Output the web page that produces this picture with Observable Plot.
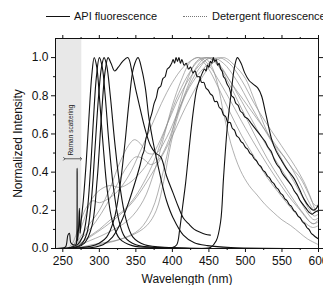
<!DOCTYPE html>
<html><head><meta charset="utf-8">
<script src="https://cdn.jsdelivr.net/npm/d3@7"></script>
<script src="https://cdn.jsdelivr.net/npm/@observablehq/plot@0.6"></script>
<style>
body{margin:0;background:#fff;font-family:"Liberation Sans",Arial,sans-serif;}
#wrap{position:relative;width:323px;height:285px;overflow:hidden;}
#legend{position:relative;height:30px;font-size:11px;color:#111;white-space:nowrap;}
.ln{position:absolute;top:16px;width:24px;height:0;}
.tx{position:absolute;top:10px;line-height:13px;}
</style></head><body>
<div id="wrap">
<div id="legend">
<span class="ln" style="left:46px;border-top:1.2px solid #111;"></span><span class="tx" style="left:74px;">API fluorescence</span>
<span class="ln" style="left:183px;border-top:1px dotted #777;"></span><span class="tx" style="left:212px;">Detergent fluorescence</span>
</div>
<div id="chart"></div>
</div>
<script>
// ---- tick labels / axes ----
const xMajor = [250,300,350,400,450,500,550,600];
const xMinor = [275,325,375,425,475,525,575];
const yMajor = [0,0.2,0.4,0.6,0.8,1.0];
const yMinor = [0.1,0.3,0.5,0.7,0.9];
const ramanShade = [[240,276]];
const ramanLabel = [{w:261,v:0.62,text:"Raman scattering"}];
const ramanArrow = [{w1:252,w2:275,v:0.47}];

// ---- API fluorescence spectra (wavelength nm, normalized intensity) ----
const api1 = [[240,0],[250,0.002],[254,0.01],[257,0.07],[259,0.08],[261,0.03],[264,0.02],[268,0.02],[269,0.05],[269.6,0.42],[270.2,0.04],[271.5,0.1],[272.7,0.21],[273.7,0.08],[275,0.14],[278,0.25],[282,0.45],[286,0.7],[289.5,0.9],[293,1.0],[296.5,0.95],[300,0.8],[305,0.55],[311,0.3],[318,0.14],[328,0.05],[345,0.015],[380,0.005],[450,0],[600,0]];
const api2 = [[240,0],[260,0.005],[270,0.02],[277,0.06],[283,0.18],[288,0.42],[292,0.68],[296,0.9],[300,1.0],[304,0.95],[308,0.8],[313,0.56],[319,0.33],[326,0.16],[335,0.06],[350,0.02],[380,0.005],[600,0]];
const api3 = [[240,0],[265,0.005],[275,0.02],[283,0.08],[289,0.25],[294,0.52],[299,0.8],[303,0.95],[306.5,1.0],[310,0.96],[315,0.8],[321,0.56],[328,0.33],[336,0.16],[346,0.06],[362,0.02],[400,0.005],[600,0]];
const api4 = [[240,0],[268,0.005],[280,0.03],[290,0.12],[297,0.36],[303,0.7],[308,0.93],[312,1.0],[316,0.97],[321,0.93],[326,0.95],[332,0.98],[339,1.0],[345,0.92],[350,0.83],[356,0.73],[363,0.62],[370,0.54],[377,0.5],[384,0.48],[392,0.38],[401,0.29],[408,0.22],[415,0.16],[422,0.13],[430,0.1],[438,0.085],[445,0.075],[452,0.07]];
const api5 = [[240,0],[275,0.005],[295,0.02],[310,0.06],[320,0.15],[328,0.32],[335,0.55],[341,0.78],[347,0.95],[353,1.0],[358,0.94],[363,0.84],[368,0.68],[374,0.55],[384,0.37],[392,0.25],[401,0.16],[415,0.07],[430,0.03],[448,0.015],[480,0.005],[600,0]];
const api6 = [[240,0],[290,0.005],[305,0.02],[318,0.06],[330,0.14],[340,0.24],[350,0.36],[356,0.44],[359,0.49],[361,0.51],[364,0.58],[366,0.6],[369,0.67],[372,0.71],[375,0.76],[378,0.79],[381,0.84],[384,0.85],[387,0.89],[390,0.9],[393,0.94],[396,0.95],[399,0.97],[401,0.99],[403,0.97],[405,1.0],[407,0.98],[409,1.0],[411,0.97],[413,0.99],[416,0.96],[419,0.97],[422,0.94],[425,0.95],[428,0.92],[431,0.93],[434,0.9],[437,0.9],[440,0.87],[443,0.87],[446,0.84],[449,0.83],[452,0.81],[455,0.8],[458,0.77],[461,0.77],[464,0.74],[467,0.73],[470,0.7],[473,0.69],[476,0.66],[479,0.66],[482,0.63],[485,0.62],[488,0.59],[491,0.58],[494,0.56],[497,0.55],[500,0.53],[503,0.52],[506,0.5],[509,0.49],[512,0.47],[515,0.46],[518,0.44],[521,0.43],[524,0.41],[527,0.4],[530,0.38],[533,0.37],[536,0.35],[539,0.34],[542,0.32],[545,0.31],[548,0.29],[551,0.28],[554,0.26],[557,0.25],[560,0.23],[563,0.22],[566,0.2],[569,0.19],[572,0.17],[575,0.16],[578,0.14],[581,0.13],[584,0.11],[587,0.1],[590,0.08],[593,0.07],[596,0.06],[600,0.05]];
const api7 = [[240,0],[380,0],[400,0.005],[406,0.02],[410,0.1],[414,0.22],[418,0.34],[421,0.45],[425,0.6],[429,0.73],[433,0.83],[437,0.88],[441,0.92],[444,0.94],[446,0.93],[448,0.96],[450,0.95],[452,0.98],[454,0.97],[456,1.0],[458,0.98],[460,0.99],[462,0.96],[464,0.97],[466,0.94],[468,0.93],[470,0.9],[472,0.89],[475,0.86],[478,0.84],[481,0.8],[484,0.79],[487,0.76],[490,0.75],[493,0.72],[496,0.71],[499,0.69],[503,0.68],[507,0.66],[511,0.64],[515,0.62],[519,0.6],[523,0.58],[527,0.56],[531,0.53],[535,0.51],[539,0.47],[543,0.44],[547,0.42],[551,0.39],[555,0.37],[559,0.35],[563,0.33],[567,0.3],[571,0.28],[575,0.25],[579,0.23],[583,0.21],[587,0.19],[591,0.18],[595,0.19],[600,0.2]];
const api8 = [[240,0],[440,0],[452,0.005],[460,0.04],[466,0.14],[470,0.37],[475,0.63],[480,0.8],[485,0.95],[489,1.0],[494,0.97],[499,0.92],[505,0.88],[511,0.86],[517,0.84],[522,0.8],[527,0.72],[531,0.65],[536,0.57],[542,0.51],[548,0.47],[556,0.42],[566,0.37],[574,0.31],[580,0.26],[587,0.22],[593,0.2],[597,0.21],[600,0.23]];

// ---- Detergent fluorescence spectra ----
const det1 = [[240,0],[255,0],[262,0.02],[268,0.07],[275,0.15],[283,0.22],[291,0.25],[300,0.24],[312,0.26],[325,0.3],[340,0.38],[355,0.5],[370,0.63],[385,0.76],[400,0.87],[415,0.95],[428,0.99],[438,1.0],[450,0.96],[465,0.87],[480,0.77],[500,0.63],[520,0.5],[540,0.38],[560,0.27],[575,0.2],[588,0.14],[594,0.13],[600,0.15]];
const det2 = [[240,0],[258,0],[266,0.02],[280,0.07],[295,0.14],[310,0.23],[325,0.34],[338,0.43],[350,0.48],[360,0.47],[370,0.44],[380,0.46],[392,0.54],[405,0.68],[420,0.84],[433,0.95],[446,1.0],[458,0.98],[475,0.9],[495,0.77],[515,0.63],[535,0.5],[555,0.38],[572,0.27],[586,0.18],[594,0.15],[600,0.16]];
const det3 = [[240,0],[260,0],[268,0.04],[278,0.14],[290,0.26],[302,0.31],[315,0.33],[328,0.32],[340,0.34],[352,0.38],[365,0.44],[380,0.54],[395,0.67],[410,0.8],[425,0.9],[440,0.97],[455,1.0],[470,0.97],[488,0.88],[507,0.75],[525,0.63],[545,0.5],[562,0.38],[578,0.27],[588,0.2],[594,0.17],[600,0.18]];
const det4 = [[240,0],[265,0],[290,0.02],[320,0.04],[345,0.07],[365,0.12],[378,0.2],[388,0.35],[398,0.55],[408,0.7],[420,0.82],[435,0.91],[450,0.97],[463,1.0],[478,0.97],[495,0.88],[512,0.76],[528,0.66],[542,0.58],[556,0.5],[568,0.43],[580,0.35],[590,0.26],[596,0.2],[600,0.19]];
const det5 = [[240,0],[268,0],[300,0.02],[330,0.05],[355,0.1],[372,0.2],[386,0.38],[398,0.58],[410,0.76],[422,0.9],[433,0.98],[443,1.0],[453,0.96],[462,0.86],[470,0.71],[480,0.55],[493,0.41],[505,0.33],[516,0.28],[527,0.23],[538,0.19],[550,0.15],[562,0.12],[575,0.08],[585,0.05],[600,0.02]];
const det6 = [[240,0],[262,0],[275,0.03],[295,0.08],[320,0.15],[345,0.24],[370,0.38],[395,0.55],[418,0.74],[438,0.88],[455,0.97],[470,1.0],[485,0.96],[500,0.89],[510,0.8],[520,0.7],[531,0.6],[540,0.54],[553,0.48],[564,0.42],[575,0.37],[586,0.29],[594,0.23],[600,0.22]];
const det7 = [[240,0],[258,0],[270,0.04],[285,0.12],[300,0.2],[315,0.32],[328,0.45],[340,0.54],[348,0.57],[356,0.55],[366,0.5],[378,0.5],[392,0.58],[408,0.72],[424,0.86],[438,0.95],[451,1.0],[465,0.96],[480,0.87],[497,0.78],[512,0.7],[527,0.62],[540,0.55],[553,0.48],[565,0.41],[576,0.33],[586,0.25],[594,0.2],[600,0.19]];
const det8 = [[240,0],[262,0],[280,0.03],[310,0.08],[340,0.15],[360,0.25],[375,0.4],[388,0.58],[400,0.75],[412,0.88],[425,0.98],[435,1.0],[448,0.95],[462,0.85],[478,0.72],[495,0.59],[512,0.48],[530,0.37],[548,0.28],[565,0.2],[580,0.14],[592,0.11],[600,0.12]];
const det9 = [[240,0],[262,0],[272,0.02],[285,0.06],[300,0.1],[315,0.15],[330,0.19],[345,0.25],[360,0.34],[375,0.46],[390,0.62],[405,0.78],[420,0.9],[435,0.98],[448,1.0],[462,0.96],[478,0.86],[495,0.73],[512,0.6],[530,0.47],[548,0.36],[565,0.26],[580,0.18],[592,0.13],[600,0.14]];

const apiSeries = [api1,api2,api3,api4,api5,api6,api7,api8];
const detSeries = [det1,det2,det3,det4,det5,det6,det7,det8,det9];
const toRows = (list, tag) => list.flatMap((s,i) => s.map(([w,v]) => ({w, v, id: tag + i})));
const apiRows = toRows(apiSeries, "a");
const detRows = toRows(detSeries, "d");

const chart = Plot.plot({
  width: 323, height: 255,
  marginLeft: 55, marginRight: 5, marginTop: 8, marginBottom: 37,
  style: {fontFamily: "'Liberation Sans', Arial, sans-serif", fontSize: "11px", color: "#111", background: "#fff"},
  x: {domain: [240, 600]},
  y: {domain: [0, 1.1]},
  marks: [
    Plot.rect(ramanShade, {x1: d => d[0], x2: d => d[1], fill: "#e8e8e8"}),
    Plot.line(detRows, {x: "w", y: "v", z: "id", stroke: "#8e8e8e", strokeWidth: 0.7, curve: "catmull-rom", clip: true}),
    Plot.line(apiRows, {x: "w", y: "v", z: "id", stroke: "#111", strokeWidth: 1.1, curve: "catmull-rom", clip: true}),
    Plot.text(ramanLabel, {x: "w", y: "v", text: "text", rotate: -90, fontSize: 6.5, fill: "#222"}),
    Plot.link(ramanArrow, {x1: "w1", x2: "w2", y1: "v", y2: "v", stroke: "#222", strokeWidth: 0.7, markerStart: "arrow", markerEnd: "arrow"}),
    Plot.axisX({ticks: xMajor, tickSize: 4, tickPadding: 4, label: "Wavelength (nm)", labelAnchor: "center", labelOffset: 34, labelArrow: "none", fontSize: 12}),
    Plot.axisX({ticks: xMinor, tickSize: 2, tickFormat: () => "", label: null}),
    Plot.axisX({anchor: "top", ticks: xMajor, tickSize: 4, tickFormat: () => "", label: null}),
    Plot.axisX({anchor: "top", ticks: xMinor, tickSize: 2, tickFormat: () => "", label: null}),
    Plot.axisY({ticks: yMajor, tickSize: 4, tickPadding: 3, tickFormat: d3.format(".1f"), label: "Normalized Intensity", labelAnchor: "center", labelOffset: 42, labelArrow: "none", fontSize: 12}),
    Plot.axisY({ticks: yMinor, tickSize: 2, tickFormat: () => "", label: null}),
    Plot.axisY({anchor: "right", ticks: yMajor, tickSize: 4, tickFormat: () => "", label: null}),
    Plot.axisY({anchor: "right", ticks: yMinor, tickSize: 2, tickFormat: () => "", label: null}),
    Plot.frame({stroke: "#111"})
  ]
});
document.getElementById("chart").appendChild(chart);
</script>
</body></html>
